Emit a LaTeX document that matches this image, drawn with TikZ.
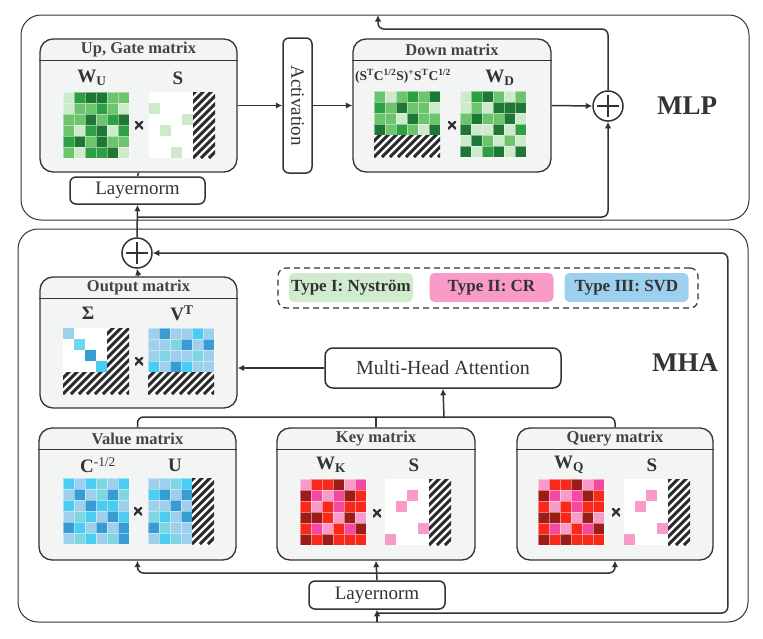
\documentclass[tikz,border=0pt]{standalone}
\usepackage{fontspec}
\setmainfont{Liberation Serif}
\usetikzlibrary{arrows.meta,positioning,calc}

\definecolor{linec}{HTML}{333333}
\definecolor{titlec}{HTML}{444444}
\definecolor{boxfill}{HTML}{F3F4F4}
\definecolor{hatchc}{HTML}{2A2A2E}
\definecolor{gL}{HTML}{CDEACB}
\definecolor{gM}{HTML}{6CC46C}
\definecolor{gB}{HTML}{2DA044}
\definecolor{gD}{HTML}{1E7735}
\definecolor{bL}{HTML}{9ED0EE}
\definecolor{bC}{HTML}{4ACDF3}
\definecolor{bT}{HTML}{7ED6E2}
\definecolor{bM}{HTML}{379CD4}
\definecolor{rP}{HTML}{F99BC9}
\definecolor{rH}{HTML}{F548A0}
\definecolor{rR}{HTML}{F8291A}
\definecolor{rD}{HTML}{9C1C17}
\definecolor{legG}{HTML}{D1EBCF}
\definecolor{legP}{HTML}{F99BC9}
\definecolor{legB}{HTML}{9CD0EE}

% 6-column grid of 11pt cells, colours row by row
\newcommand{\mgrid}[3]{%
  \foreach \cl [count=\k from 0] in {#3} {%
    \pgfmathtruncatemacro{\rr}{div(\k,6)}%
    \pgfmathtruncatemacro{\cc}{mod(\k,6)}%
    \fill[\cl, draw=white, draw opacity=0.45, line width=0.5pt]
      ({#1+11*\cc},{#2+11*\rr}) rectangle ++(11,11);
  }}

% striped block
\newcommand{\hatch}[4]{%
  \begin{scope}
    \clip (#1,#2) rectangle (#3,#4);
    \fill[white] (#1,#2) rectangle (#3,#4);
    \foreach \d in {-72,-64,...,72}
      \draw[hatchc, line width=3pt] ({#1+\d},{#4}) -- ++(80,-80);
  \end{scope}}

% selection matrix: white, a few cells, last two columns striped
\newcommand{\smat}[4]{%
  \fill[white] (#1,#2) rectangle ++(44,66);
  \foreach \r/\q in {#4}
    \fill[#3] ({#1+11*(\q-1)},{#2+11*(\r-1)}) rectangle ++(11,11);
  \hatch{#1+44}{#2}{#1+66}{#2+66}}

\begin{document}
\begin{tikzpicture}[x=1pt, y=-1pt,
  line/.style={draw=linec, line width=1.5pt, rounded corners=6pt},
  arrow/.style={line, -{Latex[length=6.5pt,width=6.5pt]}},
  outerbox/.style={draw=linec, line width=1pt, rounded corners=20pt, inner sep=0pt},
  mbox/.style={draw=linec, line width=1.3pt, fill=boxfill, rounded corners=13pt,
    minimum width=197pt, minimum height=133pt, inner sep=0pt},
  plainbox/.style={draw=linec, line width=1.5pt, fill=white, rounded corners=6pt,
    inner sep=0pt, font=\fontsize{19}{19}\selectfont, text=linec},
  mtitle/.style={font=\fontsize{16.5}{16.5}\selectfont\bfseries, text=titlec, inner sep=0pt},
  mlabel/.style={font=\fontsize{19}{19}\selectfont\bfseries, text=linec, inner sep=0pt},
  mult/.style={minimum size=8pt, inner sep=0pt,
    path picture={\draw[linec, line width=2.4pt]
      (path picture bounding box.north west) -- (path picture bounding box.south east)
      (path picture bounding box.north east) -- (path picture bounding box.south west);}},
  addc/.style={circle, draw=linec, line width=1.5pt, fill=white, minimum size=30pt, inner sep=0pt,
    path picture={\draw[linec, line width=1.3pt]
      ([xshift=-11pt]path picture bounding box.center) -- ([xshift=11pt]path picture bounding box.center)
      ([yshift=-11pt]path picture bounding box.center) -- ([yshift=11pt]path picture bounding box.center);}},
  typebox/.style={rounded corners=5pt, minimum width=124pt, minimum height=29pt, inner sep=0pt,
    font=\fontsize{17}{17}\selectfont\bfseries, text=linec},
  bigname/.style={font=\fontsize{27}{27}\selectfont\bfseries, text=linec}
]
\useasboundingbox (0,0) rectangle (763,638);

% outer blocks
\node[outerbox, minimum width=728pt, minimum height=205pt] (mlpbox) at (385,117.5) {};
\node[outerbox, minimum width=730pt, minimum height=393pt] (mhabox) at (383,425.5) {};
\node[bigname] (mlpname) at (687,106) {MLP};
\node[bigname] (mhaname) at (685,363) {MHA};

% matrix blocks
\node[mbox] (upgate) at (138.5,105.5) {};
\node[mbox, minimum width=198pt] (down) at (452,105.5) {};
\node[mbox, minimum height=131pt] (output) at (138.5,342.5) {};
\node[mbox, minimum height=132pt] (value) at (137.5,494) {};
\node[mbox, minimum width=198pt, minimum height=132pt] (key) at (376,494) {};
\node[mbox, minimum width=196pt, minimum height=132pt] (query) at (615,494) {};
\foreach \b/\t in {upgate/{Up, Gate matrix}, down/{Down matrix}, output/{Output matrix},
    value/{Value matrix}, key/{Key matrix}, query/{Query matrix}} {
  \node[mtitle] (\b-title) at ($(\b.north)+(0,11.5)$) {\t};
  \draw[linec, line width=1.3pt] ($(\b.north west)+(0,22)$) -- ($(\b.north east)+(0,22)$);
}

% other blocks
\node[plainbox, minimum width=135pt, minimum height=27pt] (lnmlp) at (137.5,190.5) {Layernorm};
\node[plainbox, minimum width=135pt, minimum height=29pt, rotate=-90] (act) at (297.5,105.5) {Activation};
\node[addc] (addmlp) at (608,106) {};
\node[addc] (addmha) at (137,253) {};
\node[plainbox, minimum width=236pt, minimum height=40pt, rounded corners=8pt,
  font=\fontsize{20}{20}\selectfont] (attn) at (443,368) {Multi-Head Attention};
\node[plainbox, minimum width=136pt, minimum height=28pt] (lnmha) at (377,595) {Layernorm};

% legend
\node[draw=linec, line width=1.2pt, dashed, dash pattern=on 6pt off 4pt, rounded corners=8pt,
  minimum width=420pt, minimum height=40pt] (legend) at (488,288) {};
\node[typebox, fill=legG] (typeone) at (351,287.5) {Type I: Nyström};
\node[typebox, fill=legP] (typetwo) at (491.5,287.5) {Type II: CR};
\node[typebox, fill=legB] (typethree) at (626.5,287.5) {Type III: SVD};

% Up, Gate matrix
\node[mlabel] (wu) at (92,78) {W\textsubscript{U}};
\node[mlabel] (sup) at (178,78) {S};
\mgrid{63}{92}{gL,gB,gD,gD,gM,gM,gL,gM,gM,gB,gM,gL,gM,gM,gD,gM,gB,gD,gM,gL,gB,gD,gL,gB,gB,gD,gM,gD,gM,gM,gM,gL,gB,gB,gD,gL}
\smat{149}{92}{gL}{2/1,3/4,4/2,6/3}
\node[mult] (xup) at (139,125) {};

% Down matrix
\node[mlabel, font=\fontsize{13.5}{13.5}\selectfont\bfseries] (pinv) at (403,76)
  {(S\textsuperscript{T}C\textsuperscript{1/2}S)\textsuperscript{+}S\textsuperscript{T}C\textsuperscript{1/2}};
\node[mlabel] (wd) at (500,78) {W\textsubscript{D}};
\mgrid{374}{91}{gM,gL,gM,gB,gM,gD,gB,gM,gD,gM,gM,gL,gM,gM,gL,gD,gM,gM,gD,gM,gB,gM,gL,gD}
\hatch{374}{135}{440}{157}
\mgrid{460}{91}{gL,gB,gD,gM,gL,gM,gL,gM,gL,gD,gD,gD,gM,gD,gM,gM,gD,gL,gD,gL,gL,gD,gL,gB,gL,gD,gM,gL,gM,gL,gD,gL,gB,gD,gL,gD}
\node[mult] (xdown) at (452,125) {};

% Output matrix
\node[mlabel] (sigma) at (88,313) {Σ};
\node[mlabel] (vt) at (182,313) {V\textsuperscript{T}};
\hatch{63}{328}{129}{394}
\fill[white] (63,328) rectangle ++(44,44);
\foreach \i/\cl in {0/bL,1/bC!80!white,2/bM,3/bC}
  \fill[\cl] ({63+11*\i},{328+11*\i}) rectangle ++(11,11);
\mgrid{148}{328}{bL,bM,bL,bL,bC,bL,bL,bL,bT,bM,bL,bM,bL,bT,bL,bL,bT,bL,bC,bL,bM,bC,bL,bL}
\hatch{148}{372}{214}{394}
\node[mult] (xout) at (139,361) {};

% Value matrix
\node[mlabel] (cinv) at (98,465) {C\textsuperscript{\mdseries-1/2}};
\node[mlabel] (uu) at (175,465) {U};
\mgrid{63}{478}{bC,bL,bC,bT,bL,bC,bL,bM,bL,bT,bM,bT,bC,bL,bM,bC,bC,bL,bL,bT,bC,bL,bM,bC,bM,bC,bL,bM,bL,bM,bL,bT,bC,bL,bT,bM}
\mgrid{148}{478}{bL,bL,bT,bC,white,white,bC,bM,bL,bM,white,white,bL,bL,bM,bL,white,white,bT,bC,bL,bM,white,white,bM,bT,bL,bL,white,white,bL,bC,bT,bL,white,white}
\hatch{192}{478}{214}{544}
\node[mult] (xval) at (138,511) {};

% Key matrix
\node[mlabel] (wk) at (331,465) {W\textsubscript{K}};
\node[mlabel] (skey) at (414,465) {S};
\mgrid{300}{479}{rP,rR,rR,rD,rP,rH,rD,rH,rP,rH,rD,rR,rR,rP,rR,rH,rR,rR,rD,rD,rR,rP,rD,rP,rR,rH,rP,rR,rH,rD,rD,rR,rD,rR,rR,rR}
\smat{385}{479}{rP}{2/3,3/2,5/4,6/1}
\node[mult] (xkey) at (377,513) {};

% Query matrix
\node[mlabel] (wq) at (569,465) {W\textsubscript{Q}};
\node[mlabel] (squery) at (652,465) {S};
\mgrid{538}{479}{rP,rR,rR,rD,rP,rH,rD,rH,rP,rH,rD,rR,rR,rP,rR,rH,rR,rR,rD,rD,rR,rP,rD,rP,rR,rH,rP,rR,rH,rD,rD,rR,rD,rR,rR,rR}
\smat{624}{479}{rP}{2/3,3/2,5/4,6/1}
\node[mult] (xquery) at (616,512) {};

% MLP connectors
\coordinate (mlpout) at (378,15);
\coordinate (resmlp) at (137,217);
\draw[line] (lnmlp.north) -- (upgate.south);
\draw[arrow] (upgate.east |- act.center) -- (act.south);
\draw[arrow] (act.north) -- (down.west |- act.center);
\draw[arrow] (down.east) -- (addmlp.west);
\draw[arrow] (addmlp.north) |- ($(mlpout)+(0,14)$) -- (mlpout);
\draw[arrow] (resmlp) -| (addmlp.south);
\draw[arrow] (addmha.north) -- (lnmlp.south);

% MHA connectors
\coordinate (mhain) at (377,622);
\coordinate (resmha) at (377,613);
\coordinate (split) at (377,573);
\coordinate (merge) at (444,417);
\draw[arrow] (mhain) -- (lnmha.south);
\draw[arrow] (resmha) -| ([xshift=575pt]addmha.east) -- (addmha.east);
\draw[arrow] (lnmha.north) -- (key.south);
\draw[arrow] (split) -| (value.south);
\draw[arrow] (split) -| (query.south);
\draw[line] (value.north) |- (merge) -| (query.north);
\draw[line] (key.north) -- (key.north |- merge);
\draw[arrow] (merge) -- (attn.south);
\draw[arrow] (attn.west) -- (attn.west -| output.east);
\draw[arrow] (output.north) -- (addmha.south);
\end{tikzpicture}
\end{document}
